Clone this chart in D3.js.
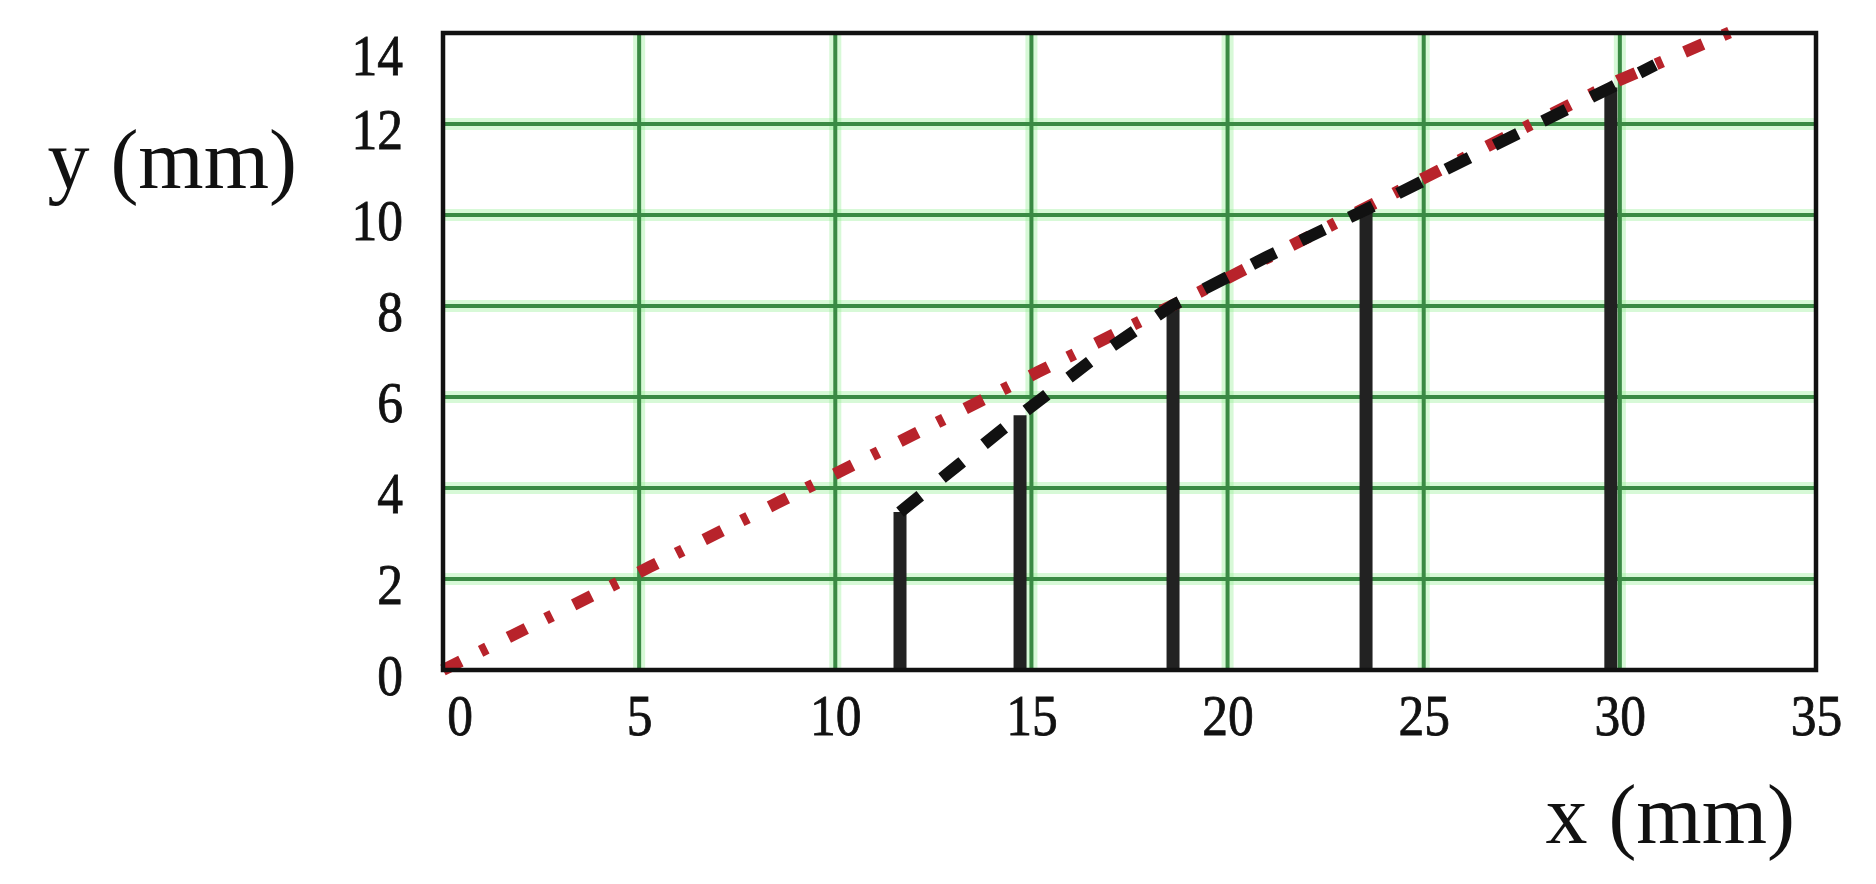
<!DOCTYPE html>
<html>
<head>
<meta charset="utf-8">
<script src="https://cdn.jsdelivr.net/npm/d3@7"></script>
<style>
  body { margin: 0; background: #fff; }
  text { font-family: "Liberation Serif", "Times New Roman", serif; fill: #111; }
</style>
</head>
<body>
<div id="chart"></div>
<script>
// axis ticks
var xTicks = [0, 5, 10, 15, 20, 25, 30, 35];
var yTicks = [0, 2, 4, 6, 8, 10, 12, 14];

// vertical stems
var stemX = [11.65, 14.71, 18.61, 23.53, 29.77];
var stemY = [3.47, 5.6, 8.02, 10.12, 12.8];

// red dash-dot line
var redX = [0, 5.28, 10.2, 15.17, 20.06, 25.05, 29.95, 32.9];
var redY = [0, 2.27, 4.4, 6.55, 8.64, 10.83, 12.95, 14.05];

// black dashed line
var blackX = [11.65, 13.2, 14.71, 16.6, 18.61, 21, 23.53, 26.6, 29.77, 30.9];
var blackY = [3.47, 4.55, 5.6, 6.85, 8.02, 9.08, 10.12, 11.45, 12.8, 13.3];

var svgWidth = 1876;
var svgHeight = 884;
var margin = {top: 33, right: 60, bottom: 214, left: 443};
var width = svgWidth - margin.left - margin.right;
var height = svgHeight - margin.top - margin.bottom;

var svg = d3.select("#chart")
    .append("svg")
        .attr("width", svgWidth)
        .attr("height", svgHeight);

svg.append("rect")
    .attr("width", svgWidth)
    .attr("height", svgHeight)
    .attr("fill", "#fff");

var g = svg.append("g")
    .attr("transform", "translate(" + margin.left + "," + margin.top + ")");

var x = d3.scaleLinear().domain([0, 35]).range([0, width]);
var y = d3.scaleLinear().domain([0, 14]).range([height, 0]);

// green grid, soft halo under a darker core
var innerX = xTicks.slice(1, -1);
var innerY = yTicks.slice(1, -1);
[{c: "#8fee8f", w: 12, o: 0.35}, {c: "#3a8a44", w: 4, o: 1}].forEach(function(s) {
    g.selectAll(null)
        .data(innerX)
        .enter().append("line")
        .attr("x1", d => x(d)).attr("x2", d => x(d))
        .attr("y1", 0).attr("y2", height)
        .attr("stroke", s.c).attr("stroke-width", s.w).attr("opacity", s.o);
    g.selectAll(null)
        .data(innerY)
        .enter().append("line")
        .attr("x1", 0).attr("x2", width)
        .attr("y1", d => y(d)).attr("y2", d => y(d))
        .attr("stroke", s.c).attr("stroke-width", s.w).attr("opacity", s.o);
});

// stems
g.selectAll(".stem")
    .data(stemX)
    .enter().append("line")
    .attr("class", "stem")
    .attr("x1", d => x(d)).attr("x2", d => x(d))
    .attr("y1", y(0))
    .attr("y2", (d, i) => y(stemY[i]))
    .attr("stroke", "#222")
    .attr("stroke-width", 13);

var line = d3.line()
    .x(d => x(d[0]))
    .y(d => y(d[1]));

g.append("path")
    .datum(redX.map((v, i) => [v, redY[i]]))
    .attr("d", line)
    .attr("fill", "none")
    .attr("stroke", "#b8232b")
    .attr("stroke-width", 12)
    .attr("stroke-dasharray", "20 22 7 24");

g.append("path")
    .datum(blackX.map((v, i) => [v, blackY[i]]))
    .attr("d", line)
    .attr("fill", "none")
    .attr("stroke", "#111")
    .attr("stroke-width", 12)
    .attr("stroke-dasharray", "26 28");

// frame
g.append("rect")
    .attr("width", width)
    .attr("height", height)
    .attr("fill", "none")
    .attr("stroke", "#111")
    .attr("stroke-width", 4.5);

// axes, labels only
var xAxis = g.append("g")
    .attr("transform", "translate(0," + height + ")")
    .call(d3.axisBottom(x).tickValues(xTicks).tickSize(0));
xAxis.select(".domain").remove();
xAxis.selectAll("text")
    .attr("y", 65)
    .attr("dy", 0)
    .attr("font-size", 56)
    .attr("transform", "scale(0.92,1)")
    .attr("text-anchor", d => d == 0 ? "start" : "middle")
    .attr("x", d => d == 0 ? 4 : 0);

var yAxis = g.append("g")
    .call(d3.axisLeft(y).tickValues(yTicks).tickSize(0));
yAxis.select(".domain").remove();
yAxis.selectAll("text")
    .attr("x", -40 / 0.92)
    .attr("dy", d => d == 14 ? 41 : 24)
    .attr("font-size", 56)
    .attr("transform", "scale(0.92,1)")
    .attr("text-anchor", "end");

svg.selectAll("text")
    .style("font-family", "'Liberation Serif', serif")
    .attr("fill", "#111")
    .attr("stroke", "#111")
    .attr("stroke-width", 0.8);

// axis titles
svg.append("text")
    .attr("x", 297)
    .attr("y", 188)
    .attr("text-anchor", "end")
    .attr("font-size", 84)
    .attr("fill", "#111")
    .text("y (mm)");

svg.append("text")
    .attr("x", 1795)
    .attr("y", 843)
    .attr("text-anchor", "end")
    .attr("font-size", 84)
    .attr("fill", "#111")
    .text("x (mm)");
</script>
</body>
</html>
